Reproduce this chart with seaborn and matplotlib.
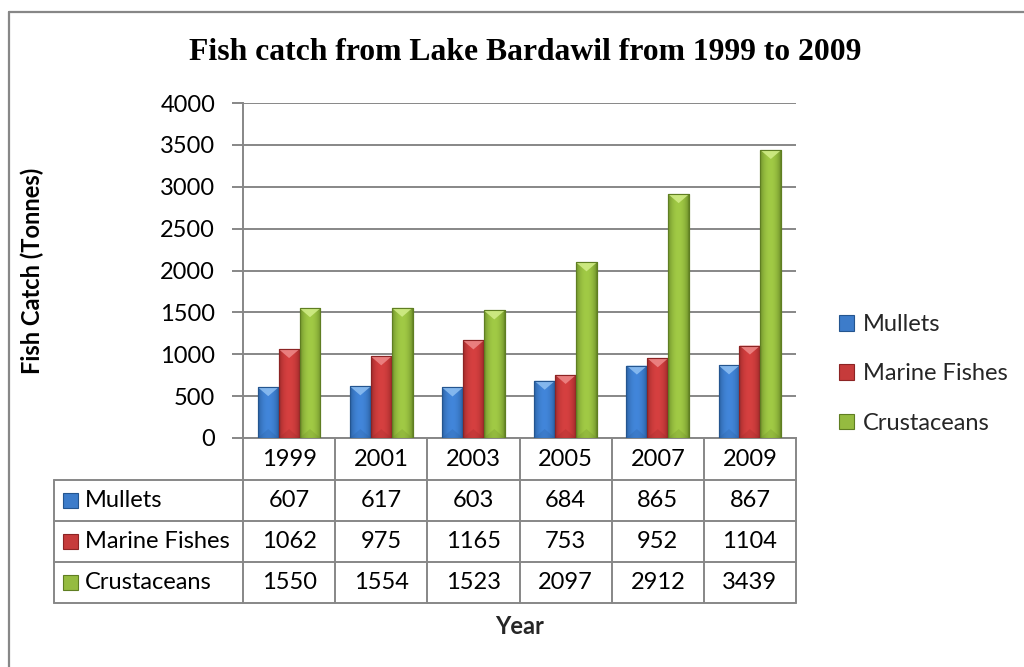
import numpy as np
import pandas as pd
import matplotlib
matplotlib.use("Agg")
import matplotlib.pyplot as plt
import seaborn as sns
from matplotlib.patches import Rectangle, Polygon, Patch
from matplotlib.colors import to_rgb

# ---- data -----------------------------------------------------------------
years = ["1999", "2001", "2003", "2005", "2007", "2009"]
series = ["Mullets", "Marine Fishes", "Crustaceans"]
mullets = [607, 617, 603, 684, 865, 867]
marine_fishes = [1062, 975, 1165, 753, 952, 1104]
crustaceans = [1550, 1554, 1523, 2097, 2912, 3439]
y_ticks = [0, 500, 1000, 1500, 2000, 2500, 3000, 3500, 4000]

values = {"Mullets": mullets, "Marine Fishes": marine_fishes, "Crustaceans": crustaceans}
face = {"Mullets": "#3d7cca", "Marine Fishes": "#c63b3b", "Crustaceans": "#95bb40"}
dark = {"Mullets": "#24558f", "Marine Fishes": "#8c2424", "Crustaceans": "#5f7e22"}
light = {"Mullets": "#8fc0f2", "Marine Fishes": "#ee8a8a", "Crustaceans": "#d3ee8a"}

df = pd.DataFrame({
    "Year": years * len(series),
    "Series": [s for s in series for _ in years],
    "Catch": mullets + marine_fishes + crustaceans,
})

sns.set_theme(style="white")
plt.rcParams["font.family"] = ["Lato", "DejaVu Sans"]

GRID = "#878787"
W, H = 1024, 667

fig = plt.figure(figsize=(W / 100, H / 100), dpi=100)
fig.patch.set_facecolor("white")

# plot area in pixel terms
L, R, T, B = 243, 796, 103, 438
ax = fig.add_axes([L / W, 1 - B / H, (R - L) / W, (B - T) / H])

sns.barplot(data=df, x="Year", y="Catch", hue="Series", order=years,
            hue_order=series, palette=face, saturation=1, width=0.68,
            legend=False, ax=ax, zorder=3)

ax.set_xlim(-0.5, len(years) - 0.5)
ax.set_ylim(0, 4000)

# bevelled shading for each bar
px_per_unit_y = (B - T) / 4000.0
for cont, s in zip(ax.containers, series):
    base = np.array(to_rgb(face[s]))
    shade = np.array(to_rgb(dark[s]))
    for bar in cont:
        x0, w, h = bar.get_x(), bar.get_width(), bar.get_height()
        bar.set_edgecolor(shade)
        bar.set_linewidth(0.8)
        t = np.linspace(0, 1, 64)
        prof = np.sin(np.pi * t) ** 0.5
        cols = shade[None, :] * (1 - prof[:, None]) + base[None, :] * prof[:, None]
        cols = np.clip(cols * (1 + 0.08 * prof[:, None]), 0, 1)
        img = ax.imshow(cols[None, :, :], extent=[x0, x0 + w, 0, h],
                        aspect="auto", zorder=3.5, interpolation="bilinear")
        img.set_clip_path(bar)
        # light cap at the top of the bar
        cap = 9 / px_per_unit_y
        tri = Polygon([[x0, h], [x0 + w, h], [x0 + w / 2, h - cap]],
                      closed=True, facecolor=light[s], edgecolor="none",
                      alpha=0.85, zorder=3.6)
        ax.add_patch(tri)
        # darker wedge at the foot
        foot = Polygon([[x0, 0], [x0 + w, 0], [x0 + w / 2, cap]],
                       closed=True, facecolor=shade, edgecolor="none",
                       alpha=0.2, zorder=3.6)
        ax.add_patch(foot)
        edge = Rectangle((x0, 0), w, h, fill=False, edgecolor=shade,
                         linewidth=0.8, zorder=3.7)
        ax.add_patch(edge)

ax.set_xlim(-0.5, len(years) - 0.5)
ax.set_ylim(0, 4000)

# axes styling
ax.set_yticks(y_ticks)
ax.set_yticklabels([str(v) for v in y_ticks])
ax.yaxis.grid(True, color=GRID, linewidth=1.4, zorder=0)
ax.xaxis.grid(False)
ax.set_axisbelow(True)
for side in ["top", "right"]:
    ax.spines[side].set_visible(False)
for side in ["left", "bottom"]:
    ax.spines[side].set_color(GRID)
    ax.spines[side].set_linewidth(1.4)
ax.tick_params(axis="y", which="major", left=True, length=8, width=1.4,
               color=GRID, labelsize=17, pad=12, labelcolor="black")
ax.tick_params(axis="x", length=0, labelbottom=False)
ax.set_xlabel("")
ax.set_ylabel("Fish Catch (Tonnes)", fontsize=17, fontweight="bold",
              color="black", va="center")
ax.yaxis.set_label_coords((32 - L) / (R - L), 0.5)

# data table under the plot
ncol = len(years)
row_px = [B, 480, 521, 562, 603]
row_ax = [-(p - B) / (B - T) for p in row_px]
label_left = (54 - L) / (R - L)
line_kw = dict(color=GRID, linewidth=1.4, transform=ax.transAxes, clip_on=False)

for k in range(ncol + 1):
    ax.plot([k / ncol, k / ncol], [row_ax[0], row_ax[-1]], **line_kw)
ax.plot([label_left, label_left], [row_ax[1], row_ax[-1]], **line_kw)
for yv in row_ax[1:]:
    ax.plot([label_left, 1], [yv, yv], **line_kw)

text_kw = dict(transform=ax.transAxes, fontsize=17, va="center", color="black")
yc0 = (row_ax[0] + row_ax[1]) / 2
for i, yr in enumerate(years):
    ax.text((i + 0.5) / ncol, yc0, yr, ha="center", **text_kw)

icon_w = 15 / (R - L)
icon_h = 15 / (B - T)
for r, s in enumerate(series):
    yc = (row_ax[r + 1] + row_ax[r + 2]) / 2
    ax.add_patch(Rectangle(((63 - L) / (R - L), yc - icon_h / 2), icon_w, icon_h,
                           facecolor=face[s], edgecolor=dark[s], linewidth=0.8,
                           transform=ax.transAxes, clip_on=False))
    ax.text((85 - L) / (R - L), yc, s, ha="left", **text_kw)
    for i, v in enumerate(values[s]):
        ax.text((i + 0.5) / ncol, yc, str(v), ha="center", **text_kw)

ax.text(0.5, -(626 - B) / (B - T), "Year", ha="center", va="center",
        fontsize=17, fontweight="bold", transform=ax.transAxes)

# legend
handles = [Patch(facecolor=face[s], edgecolor=dark[s], linewidth=0.8) for s in series]
leg = ax.legend(handles, series, loc="center left",
                bbox_to_anchor=(839 / W, 1 - 374 / H), bbox_transform=fig.transFigure,
                frameon=False, fontsize=17, borderpad=0, borderaxespad=0,
                handlelength=0.65, handleheight=0.65, handletextpad=0.35,
                labelspacing=1.2)

# title
fig.text(525 / W, 1 - 53 / H, "Fish catch from Lake Bardawil from 1999 to 2009",
         ha="center", va="center", fontsize=22.8, fontweight="bold", color="black",
         family=["Liberation Serif", "DejaVu Serif"])

# chart frame
fig.add_artist(plt.Line2D([9 / W, 9 / W], [0, 1 - 12 / H], color=GRID,
                          linewidth=1.6, transform=fig.transFigure))
fig.add_artist(plt.Line2D([9 / W, 1], [1 - 12 / H, 1 - 12 / H], color=GRID,
                          linewidth=1.6, transform=fig.transFigure))

fig.savefig("out.png", dpi=100, facecolor="white")
